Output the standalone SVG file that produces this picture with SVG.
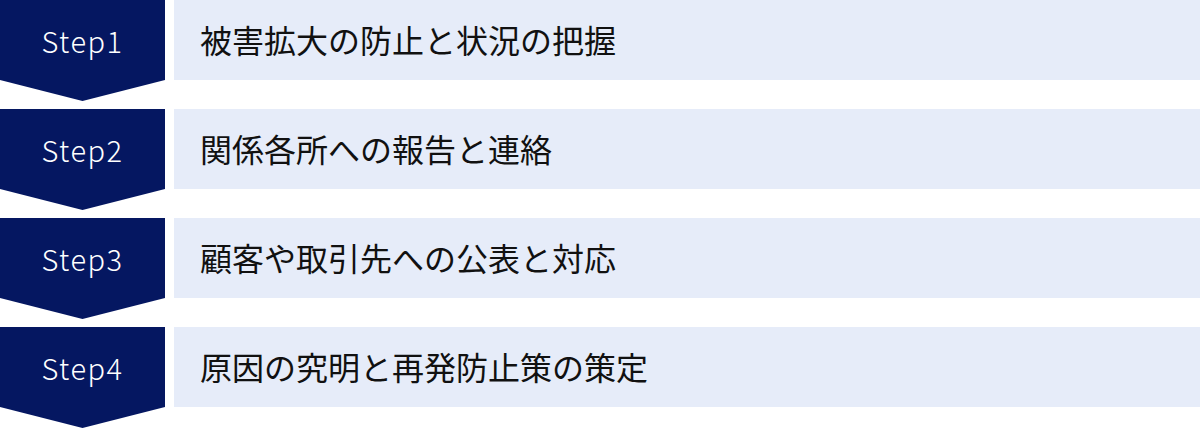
<svg xmlns="http://www.w3.org/2000/svg" width="1200" height="429" viewBox="0 0 1200 429">
<style>
.chev{fill:#051761}
.box{fill:#e6ecf9}
.step{font-family:"Noto Sans CJK JP","Noto Sans",sans-serif;font-size:29px;font-weight:300;fill:#ffffff;text-anchor:middle;letter-spacing:1.5px}
.lbl{font-family:"Noto Sans CJK JP","Noto Sans",sans-serif;font-size:32px;fill:#111111}
</style>
<rect width="1200" height="429" fill="#ffffff"/>
<g id="step1">
<path class="chev" d="M0,0H165V80L82.5,101L0,80Z"/>
<rect class="box" x="174" y="0" width="1026" height="80"/>
<text class="step" x="82.5" y="53">Step1</text>
<text class="lbl" x="200" y="53">被害拡大の防止と状況の把握</text>
</g>
<g id="step2">
<path class="chev" d="M0,109H165V189L82.5,210L0,189Z"/>
<rect class="box" x="174" y="109" width="1026" height="80"/>
<text class="step" x="82.5" y="162">Step2</text>
<text class="lbl" x="200" y="162">関係各所への報告と連絡</text>
</g>
<g id="step3">
<path class="chev" d="M0,218H165V298L82.5,319L0,298Z"/>
<rect class="box" x="174" y="218" width="1026" height="80"/>
<text class="step" x="82.5" y="271">Step3</text>
<text class="lbl" x="200" y="271">顧客や取引先への公表と対応</text>
</g>
<g id="step4">
<path class="chev" d="M0,327H165V407L82.5,428L0,407Z"/>
<rect class="box" x="174" y="327" width="1026" height="80"/>
<text class="step" x="82.5" y="380">Step4</text>
<text class="lbl" x="200" y="380">原因の究明と再発防止策の策定</text>
</g>
<g id="connectors"></g>
</svg>
